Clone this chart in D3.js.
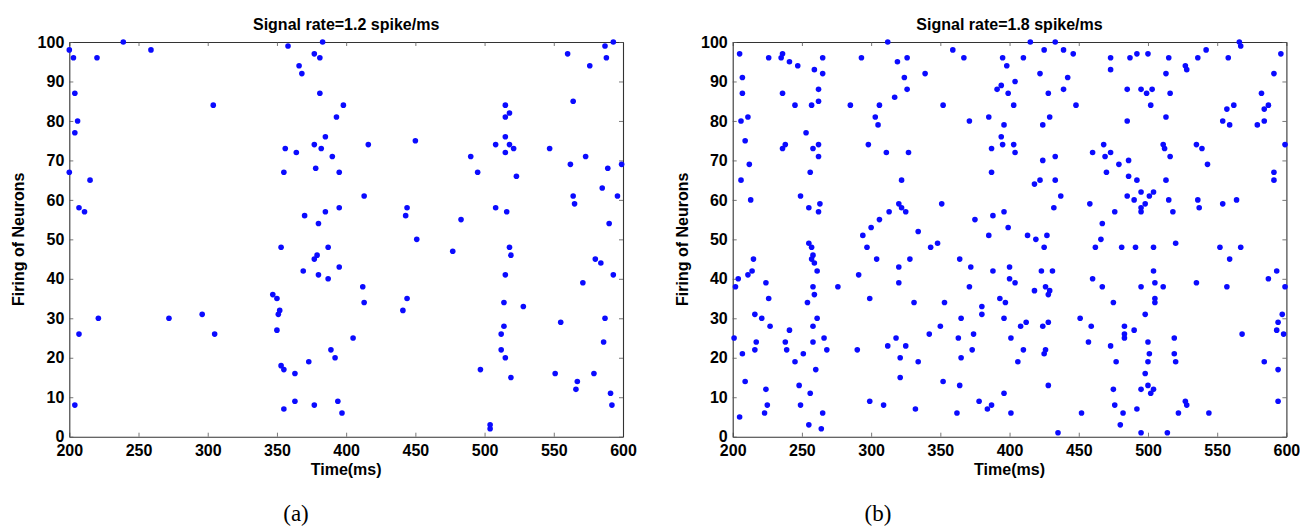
<!DOCTYPE html>
<html>
<head>
<meta charset="utf-8">
<script src="https://cdn.jsdelivr.net/npm/d3@7"></script>
<style>
  body { margin: 0; background: #fff; }
  svg { display: block; }
  .tick text { font-family: "Liberation Sans", Arial, sans-serif; font-weight: bold; font-size: 16px; fill: #000; }
  .tick line { stroke: #555; stroke-width: 0.8; }
  .domain { stroke: #333; stroke-width: 1.1; }
</style>
</head>
<body>
<svg id="chart" width="1300" height="529"></svg>
<script>
var X_TICKS = [200, 250, 300, 350, 400, 450, 500, 550, 600];
var Y_TICKS = [0, 10, 20, 30, 40, 50, 60, 70, 80, 90, 100];
var TITLES = ["Signal rate=1.2 spike/ms", "Signal rate=1.8 spike/ms"];
var CAPTIONS = ["(a)", "(b)"];

// [time (ms), neuron index]
var spikesA = [
  [200,98],[203,96],[204,87],[206,80],[204,77],[200,67],[215,65],[207,58],[211,57],[220,96],[239,100],[259,98],[304,84],
  [358,99],[366,94],[368,92],[377,97],[381,96],[383,100],[381,87],[356,73],[364,72],[377,74],[382,73],[385,76],[355,67],
  [378,68],[390,71],[370,56],[380,54],[385,57],[353,48],[387,48],
  [398,84],[393,81],[416,74],[395,67],[413,61],[395,58],[450,75],[444,58],[443,56],[451,50],[477,47],[483,55],[490,71],
  [495,67],[508,74],[515,84],[518,82],[515,81],[515,76],[518,74],[515,72],[521,73],[523,66],[508,58],[516,57],[518,48],
  [547,73],[560,97],[576,94],[564,85],[573,71],[562,69],[587,99],[593,100],[588,96],[589,68],[599,69],[564,61],[565,59],
  [585,63],[596,61],[590,54],
  [377,45],[379,46],[369,42],[380,41],[387,40],[347,36],[350,35],[352,32],[351,31],[350,27],[353,18],[355,17],[363,16],
  [373,19],[389,22],[363,9],[377,8],[355,7],[204,8],[207,26],[221,30],[272,30],[296,31],[305,26],
  [395,43],[412,38],[413,34],[405,25],[392,20],[394,9],[397,6],[441,32],[444,35],[519,46],[515,41],[514,34],[528,33],
  [514,28],[512,26],[512,22],[515,20],[519,15],[497,17],[504,3],[504,2],[580,45],[584,44],[593,41],[571,39],[587,30],
  [555,29],[586,24],[551,16],[579,16],[567,14],[566,12],[591,11],[592,8]
];

var spikesB = [
  [205,97],[207,91],[207,87],[206,80],[211,81],[209,75],[212,69],[206,65],[213,60],[226,96],[235,96],[236,97],[241,95],
  [247,94],[236,87],[245,84],[236,73],[238,74],[253,77],[259,93],[265,96],[265,92],[262,88],[262,85],[257,84],[258,73],
  [262,74],[262,71],[256,67],[249,61],[255,58],[263,59],[262,57],[285,84],[293,96],[298,74],[303,81],[305,79],[306,84],
  [311,72],[312,100],[317,86],[319,95],[326,96],[324,91],[326,88],[327,72],[322,65],[320,59],[322,58],[325,57],[313,57],
  [306,55],[300,53],[294,51],[334,52],[339,92],[352,84],[359,98],[367,96],[371,80],[351,59],[375,55],
  [395,96],[398,94],[410,96],[415,100],[425,98],[433,100],[439,98],[446,97],[422,92],[442,91],[404,90],[391,88],[394,89],
  [399,87],[428,87],[439,88],[403,84],[448,84],[385,81],[396,79],[424,79],[429,81],[394,76],[387,73],[395,74],[403,74],
  [404,72],[424,70],[433,71],[387,67],[418,64],[422,65],[433,65],[437,61],[432,58],[396,57],[388,56],[399,53],
  [467,54],[458,59],[476,57],[468,74],[460,72],[469,71],[473,72],[479,69],[486,70],[470,67],[486,66],[492,65],[473,96],
  [473,93],[487,96],[492,97],[500,97],[485,88],[495,88],[499,87],[503,88],[502,84],[485,80],[485,61],[490,60],[495,62],
  [498,59],[501,61],[504,62],[495,58],[495,57],
  [515,96],[513,92],[516,87],[513,81],[511,74],[512,73],[516,71],[513,65],[515,60],[518,57],[527,94],[528,93],[536,96],
  [542,98],[535,74],[539,73],[543,69],[536,60],[537,58],[558,96],[566,100],[567,99],[554,80],[559,79],[557,83],[562,84],
  [554,59],[564,60],[596,97],[591,92],[582,87],[584,83],[587,84],[579,79],[584,80],[599,74],[591,67],[591,65],
  [255,49],[257,48],[258,46],[257,45],[259,44],[261,42],[258,38],[259,36],[254,34],[261,30],[258,28],[258,24],[266,25],
  [268,22],[260,17],[256,11],[255,3],[264,2],[265,6],[249,8],[248,13],[245,19],[251,21],[238,24],[239,22],[241,27],
  [201,25],[202,38],[204,40],[207,21],[209,14],[205,5],[211,41],[214,42],[215,45],[216,31],[221,30],[217,24],[216,22],
  [227,28],[226,35],[224,39],[224,12],[225,8],[223,6],[276,38],[297,48],[304,45],[291,41],[299,35],[290,22],[299,9],
  [309,8],[312,23],[318,25],[325,23],[321,20],[321,15],[320,43],[320,39],[328,45],[331,34],[334,19],[332,7],[343,48],
  [348,49],[350,28],[342,26],[353,34],[352,14],[364,45],[372,43],[371,38],[365,30],[363,25],[374,26],[373,22],[365,20],
  [364,13],[362,6],[378,9],
  [385,51],[413,51],[419,50],[427,51],[425,48],[462,48],[466,50],[481,48],[491,48],[504,48],[520,49],[552,48],[567,48],
  [559,45],[388,42],[400,43],[400,40],[404,39],[418,37],[423,42],[431,42],[426,38],[429,37],[428,36],[393,35],[397,34],
  [380,33],[380,31],[396,30],[412,29],[408,28],[424,28],[428,29],[401,25],[410,22],[425,21],[426,22],[406,19],[428,13],
  [396,11],[387,8],[384,7],[401,6],[435,1],[451,30],[459,28],[457,24],[460,40],[467,38],[475,34],[473,23],[477,19],
  [475,12],[476,8],[482,6],[480,3],[452,6],[483,28],[483,26],[483,25],[490,27],[492,7],[495,38],[498,31],[500,24],
  [501,21],[500,19],[498,16],[500,13],[495,12],[504,12],[502,11],[495,1],[504,42],[505,39],[511,38],[505,35],[505,34],
  [514,1],[519,25],[519,21],[520,19],[522,6],[527,9],[528,8],[535,39],[544,6],[557,38],[568,26],[584,19],[594,17],
  [594,9],[587,40],[593,42],[599,38],[597,31],[594,29],[593,27],[598,26]
];

var W = 553.7;
var H = 394.7;
var panels = [
  { left: 69.3, top: 42, data: spikesA, title: TITLES[0], caption: CAPTIONS[0], capX: 296 },
  { left: 732.7, top: 42, data: spikesB, title: TITLES[1], caption: CAPTIONS[1], capX: 878 }
];

var svg = d3.select("#chart");

function drawPanel(p)
{
  var xScale = d3.scaleLinear().domain([200, 600]).range([0, W]);
  var yScale = d3.scaleLinear().domain([0, 100]).range([H, 0]);

  var g = svg.append("g").attr("transform", "translate(" + p.left + "," + p.top + ")");

  // box axes, matlab style ticks pointing inwards
  g.append("g")
    .attr("transform", "translate(0," + H + ")")
    .call(d3.axisBottom(xScale).tickValues(X_TICKS).tickSize(-4).tickSizeOuter(0).tickPadding(8));
  g.append("g")
    .call(d3.axisTop(xScale).tickValues(X_TICKS).tickSize(-4).tickSizeOuter(0).tickFormat(""));
  g.append("g")
    .call(d3.axisLeft(yScale).tickValues(Y_TICKS).tickSize(-4).tickSizeOuter(0).tickPadding(5));
  g.append("g")
    .attr("transform", "translate(" + W + ",0)")
    .call(d3.axisRight(yScale).tickValues(Y_TICKS).tickSize(-4).tickSizeOuter(0).tickFormat(""));

  g.selectAll("circle.spike")
    .data(p.data)
    .enter()
      .append("circle")
      .attr("class", "spike")
      .attr("cx", function(d) { return xScale(d[0]); })
      .attr("cy", function(d) { return yScale(d[1]); })
      .attr("r", 2.8)
      .attr("fill", "#0b0bff");

  g.append("text")
    .attr("x", W / 2)
    .attr("y", -12)
    .attr("text-anchor", "middle")
    .style("font-family", "'Liberation Sans', Arial, sans-serif")
    .style("font-weight", "bold")
    .style("font-size", "16px")
    .text(p.title);

  g.append("text")
    .attr("x", W / 2)
    .attr("y", H + 38)
    .attr("text-anchor", "middle")
    .style("font-family", "'Liberation Sans', Arial, sans-serif")
    .style("font-weight", "bold")
    .style("font-size", "16px")
    .text("Time(ms)");

  g.append("text")
    .attr("transform", "translate(-45," + (H / 2) + ") rotate(-90)")
    .attr("text-anchor", "middle")
    .style("font-family", "'Liberation Sans', Arial, sans-serif")
    .style("font-weight", "bold")
    .style("font-size", "16px")
    .text("Firing of Neurons");

  svg.append("text")
    .attr("x", p.capX)
    .attr("y", 521)
    .attr("text-anchor", "middle")
    .style("font-family", "'Liberation Serif', 'Times New Roman', serif")
    .style("font-size", "23px")
    .text(p.caption);
}

panels.forEach(drawPanel);
</script>
</body>
</html>
